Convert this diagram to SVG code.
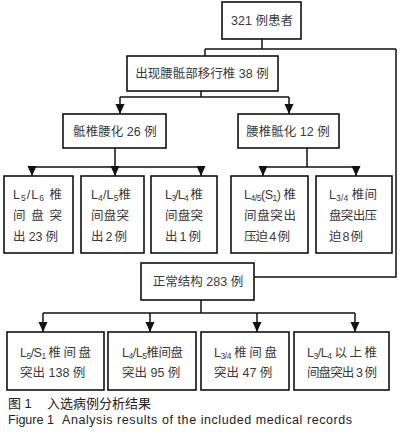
<svg xmlns="http://www.w3.org/2000/svg" width="405" height="435" viewBox="0 0 405 435">
<defs>
<marker id="arr" markerUnits="userSpaceOnUse" markerWidth="10" markerHeight="10" viewBox="0 0 10 10" refX="10" refY="5" orient="auto">
<path d="M0,0.5 L10,5 L0,9.5 z" fill="#111"/>
</marker>
<style>
rect{fill:#fff;stroke:#111;stroke-width:1.6}
text{font-family:"Liberation Sans","Noto Sans CJK SC",sans-serif;font-size:12.5px;fill:#3a3a3a}
.c{text-anchor:middle}
.sub{font-size:8.5px}
#connectors line,#connectors polyline{stroke:#111;stroke-width:1.5;fill:none}
.a{marker-end:url(#arr)}
.cap{font-size:13px;fill:#222}
.capE{font-size:12.5px;fill:#222}
</style>
</defs>
<rect x="0" y="0" width="405" height="435" style="fill:#fff;stroke:none"/>
<g id="connectors">
<line x1="262" y1="39" x2="262" y2="49"/>
<line x1="205" y1="49" x2="396" y2="49"/>
<line x1="205" y1="49" x2="205" y2="56"/>
<polyline points="396,49 396,277 254,277"/>
<line x1="201" y1="91" x2="201" y2="97"/>
<line x1="120" y1="97" x2="289" y2="97"/>
<line class="a" x1="120" y1="97" x2="120" y2="114"/>
<line class="a" x1="289" y1="97" x2="289" y2="114"/>
<line x1="115" y1="148" x2="115" y2="167"/>
<line x1="32" y1="167" x2="201" y2="167"/>
<line class="a" x1="32" y1="167" x2="32" y2="176"/>
<line class="a" x1="115" y1="167" x2="115" y2="176"/>
<line class="a" x1="201" y1="167" x2="201" y2="176"/>
<line x1="307" y1="148" x2="307" y2="167"/>
<line x1="263" y1="167" x2="356" y2="167"/>
<line class="a" x1="263" y1="167" x2="263" y2="176"/>
<line class="a" x1="356" y1="167" x2="356" y2="176"/>
<line x1="201" y1="300" x2="201" y2="313"/>
<line x1="43" y1="313" x2="355" y2="313"/>
<line class="a" x1="43" y1="313" x2="43" y2="332"/>
<line class="a" x1="150" y1="313" x2="150" y2="332"/>
<line class="a" x1="257" y1="313" x2="257" y2="332"/>
<line class="a" x1="355" y1="313" x2="355" y2="332"/>
</g>
<g id="n321">
<rect x="222" y="2" width="79" height="37"/>
<text class="c" x="262" y="25">321 例患者</text>
</g>
<g id="nTrans">
<rect x="127" y="56" width="151" height="35"/>
<text class="c" x="202" y="78">出现腰骶部移行椎 38 例</text>
</g>
<g id="nSacLumb">
<rect x="63" y="114" width="103" height="34"/>
<text class="c" x="115" y="136">骶椎腰化 26 例</text>
</g>
<g id="nLumbSac">
<rect x="238" y="114" width="101" height="34"/>
<text class="c" x="288" y="136">腰椎骶化 12 例</text>
</g>
<g id="nA1">
<rect x="4" y="176" width="69" height="77"/>
<text x="13" y="199" textLength="49">L<tspan class="sub" dy="2">5</tspan><tspan dy="-2">/L</tspan><tspan class="sub" dy="2">6</tspan><tspan dy="-2"> 椎</tspan></text>
<text x="13" y="220" textLength="49">间 盘 突</text>
<text x="13" y="241" textLength="45">出 23 例</text>
</g>
<g id="nA2">
<rect x="81" y="176" width="63" height="77"/>
<text x="91" y="199" textLength="40">L<tspan class="sub" dy="2">4</tspan><tspan dy="-2">/L</tspan><tspan class="sub" dy="2">5</tspan><tspan dy="-2">椎</tspan></text>
<text x="91" y="220" textLength="38">间盘突</text>
<text x="91" y="241" textLength="36">出 2 例</text>
</g>
<g id="nA3">
<rect x="151" y="176" width="66" height="77"/>
<text x="165" y="199" textLength="38">L<tspan class="sub" dy="2">3</tspan><tspan dy="-2">/L</tspan><tspan class="sub" dy="2">4</tspan><tspan dy="-2"> 椎</tspan></text>
<text x="165" y="220" textLength="38">间 盘 突</text>
<text x="165" y="241" textLength="36">出 1 例</text>
</g>
<g id="nB1">
<rect x="231" y="176" width="77" height="77"/>
<text x="244" y="199" textLength="52">L<tspan class="sub" dy="2">4</tspan><tspan class="sub" dy="0">/</tspan><tspan class="sub" dy="0">5</tspan><tspan dy="-2">(S</tspan><tspan class="sub" dy="2">1</tspan><tspan dy="-2">) 椎</tspan></text>
<text x="244" y="220" textLength="52">间盘突出</text>
<text x="244" y="241" textLength="46">压迫 4 例</text>
</g>
<g id="nB2">
<rect x="316" y="176" width="76" height="77"/>
<text x="329" y="199" textLength="48">L<tspan class="sub" dy="2">3</tspan><tspan class="sub" dy="0">/</tspan><tspan class="sub" dy="0">4</tspan><tspan dy="-2"> 椎间</tspan></text>
<text x="329" y="220" textLength="48">盘突出压</text>
<text x="329" y="241" textLength="34">迫 8 例</text>
</g>
<g id="nNormal">
<rect x="141" y="263" width="113" height="37"/>
<text class="c" x="198" y="286">正常结构 283 例</text>
</g>
<g id="nC1">
<rect x="7" y="332" width="97" height="58"/>
<text x="20" y="357" textLength="71">L<tspan class="sub" dy="2">5</tspan><tspan dy="-2">/S</tspan><tspan class="sub" dy="2">1</tspan><tspan dy="-2"> 椎 间 盘</tspan></text>
<text x="20" y="377">突出 138 例</text>
</g>
<g id="nC2">
<rect x="108" y="332" width="88" height="58"/>
<text x="122" y="357" textLength="61">L<tspan class="sub" dy="2">4</tspan><tspan dy="-2">/L</tspan><tspan class="sub" dy="2">5</tspan><tspan dy="-2">椎间盘</tspan></text>
<text x="122" y="377">突出 95 例</text>
</g>
<g id="nC3">
<rect x="201" y="332" width="88" height="58"/>
<text x="214" y="357" textLength="63">L<tspan class="sub" dy="2">3</tspan><tspan class="sub" dy="0">/</tspan><tspan class="sub" dy="0">4</tspan><tspan dy="-2"> 椎 间 盘</tspan></text>
<text x="214" y="377">突出 47 例</text>
</g>
<g id="nC4">
<rect x="294" y="332" width="95" height="58"/>
<text x="307" y="357" textLength="70">L<tspan class="sub" dy="2">3</tspan><tspan dy="-2">/L</tspan><tspan class="sub" dy="2">4</tspan><tspan dy="-2"> 以 上 椎</tspan></text>
<text x="307" y="377" textLength="70">间盘突出 3 例</text>
</g>
<g id="caption">
<text class="cap" x="8" y="408">图 1</text>
<text class="cap" x="47" y="408">入选病例分析结果</text>
<text class="capE" x="8" y="424">Figure 1</text>
<text class="capE" x="62" y="424" textLength="290">Analysis results of the included medical records</text>
</g>
</svg>
